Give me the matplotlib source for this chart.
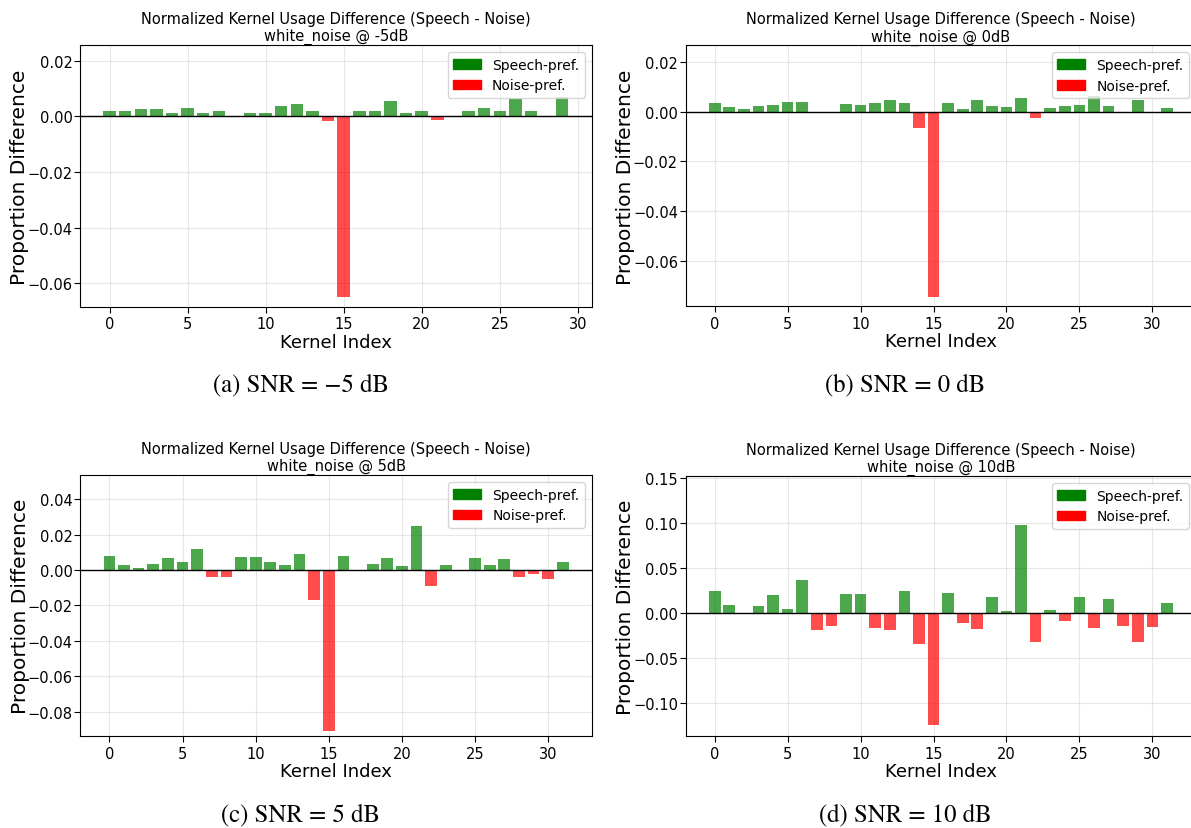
import numpy as np
import matplotlib
matplotlib.use("Agg")
import matplotlib.pyplot as plt
from matplotlib.patches import Patch

# ---- data ----
kernels_a = list(range(30))
diff_a = [0.0018, 0.0018, 0.0025, 0.0025, 0.0014, 0.0032, 0.0014, 0.0021, 0.0, 0.0014,
          0.0014, 0.0036, 0.0046, 0.0018, -0.0017, -0.0650, 0.0018, 0.0018, 0.0054, 0.0014,
          0.0021, -0.0013, 0.0, 0.0018, 0.0032, 0.0018, 0.0064, 0.0021, 0.0, 0.0071]

kernels = list(range(32))
diff_b = [0.0036, 0.0020, 0.0012, 0.0024, 0.0028, 0.0040, 0.0040, 0.0, 0.0, 0.0032,
          0.0028, 0.0036, 0.0048, 0.0036, -0.0065, -0.0745, 0.0036, 0.0012, 0.0048, 0.0024,
          0.0020, 0.0056, -0.0024, 0.0016, 0.0024, 0.0028, 0.0062, 0.0024, 0.0, 0.0048,
          0.0, 0.0016]
diff_c = [0.0079, 0.0028, 0.0011, 0.0034, 0.0068, 0.0045, 0.0119, -0.0040, -0.0040, 0.0073,
          0.0073, 0.0045, 0.0028, 0.0090, -0.0170, -0.0910, 0.0079, 0.0, 0.0034, 0.0068,
          0.0023, 0.0248, -0.0090, 0.0028, 0.0, 0.0068, 0.0028, 0.0062, -0.0040, -0.0023,
          -0.0051, 0.0045]
diff_d = [0.0247, 0.0092, 0.0, 0.0081, 0.0203, 0.0048, 0.0369, -0.0185, -0.0140, 0.0214,
          0.0214, -0.0162, -0.0185, 0.0247, -0.0340, -0.1250, 0.0225, -0.0107, -0.0173, 0.0181,
          0.0026, 0.0978, -0.0328, 0.0037, -0.0085, 0.0181, -0.0162, 0.0159, -0.0140, -0.0328,
          -0.0151, 0.0114]

snr_titles = ["-5dB", "0dB", "5dB", "10dB"]
captions = ["(a) SNR = \u22125 dB", "(b) SNR = 0 dB", "(c) SNR = 5 dB", "(d) SNR = 10 dB"]
legend_labels = ["Speech-pref.", "Noise-pref."]

panels = [
    (kernels_a, diff_a, [0.0672, 0.6288, 0.4296, 0.3157], (-1.89, 30.89), (-0.0685, 0.0257)),
    (kernels, diff_b, [0.5757, 0.6293, 0.4285, 0.3148], (-1.99, 32.99), (-0.0783, 0.0267)),
    (kernels, diff_c, [0.0674, 0.1110, 0.4296, 0.3148], (-1.99, 32.99), (-0.0937, 0.0537)),
    (kernels, diff_d, [0.5757, 0.1110, 0.4285, 0.3136], (-1.99, 32.99), (-0.137, 0.1526)),
]
caption_pos = [(0.2527, 0.5356), (0.760, 0.5356), (0.2527, 0.0169), (0.760, 0.0169)]

fig = plt.figure(figsize=(11.91, 8.29), dpi=100)

for i, (x, y, rect, xl, yl) in enumerate(panels):
    ax = fig.add_axes(rect)
    y = np.array(y)
    colors = ["green" if v >= 0 else "red" for v in y]
    ax.bar(x, y, color=colors, alpha=0.7, width=0.8)
    ax.axhline(0, color="black", linewidth=1)
    ax.grid(True, alpha=0.3)
    ax.set_axisbelow(True)
    ax.set_xlim(*xl)
    ax.set_ylim(*yl)
    ax.set_title("Normalized Kernel Usage Difference (Speech - Noise)\nwhite_noise @ " + snr_titles[i],
                 fontsize=10.5, pad=3.5)
    ax.set_xlabel("Kernel Index", fontsize=13, labelpad=1)
    ax.set_ylabel("Proportion Difference", fontsize=14.5, labelpad=-1.5)
    ax.tick_params(labelsize=10.5, length=4, pad=1.5)
    ax.tick_params(axis="x", pad=3)
    handles = [Patch(color="green"), Patch(color="red")]
    ax.legend(handles, legend_labels, loc="upper right", fontsize=10)
    cx, cy = caption_pos[i]
    fig.text(cx, cy, captions[i], ha="center", va="center", fontsize=17.8,
             family="STIXGeneral")

fig.savefig("out.png", dpi=100)
